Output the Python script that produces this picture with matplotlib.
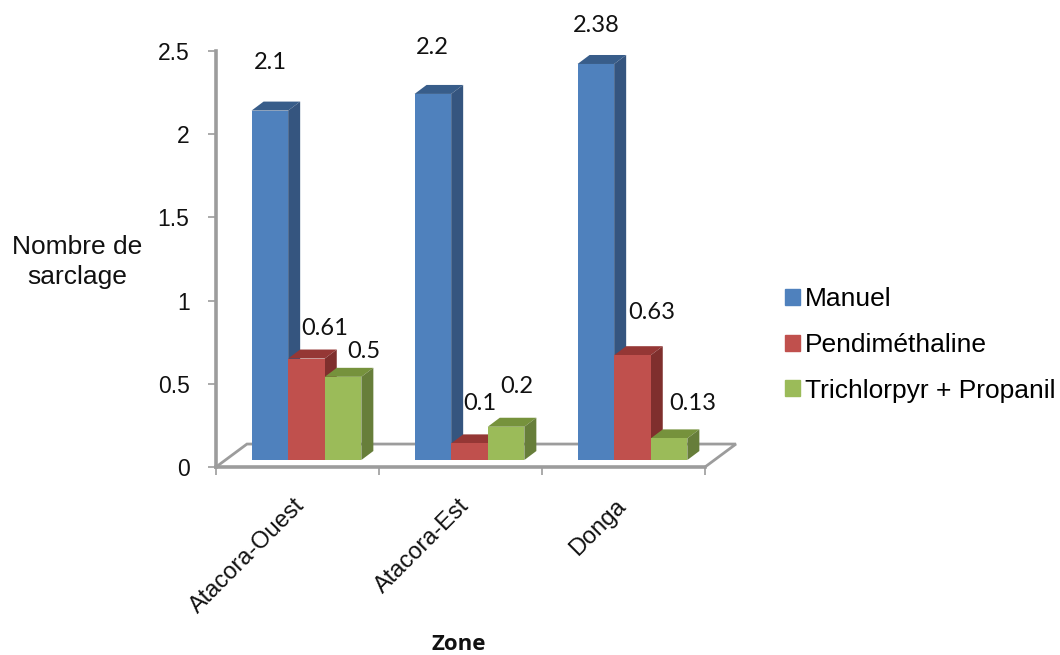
import matplotlib
matplotlib.use('Agg')
import matplotlib.pyplot as plt
from matplotlib.patches import Polygon, Patch

zones = ['Atacora-Ouest', 'Atacora-Est', 'Donga']
series = ['Manuel', 'Pendiméthaline', 'Trichlorpyr + Propanil']
manuel = [2.1, 2.2, 2.38]
pendimethaline = [0.61, 0.1, 0.63]
trichlorpyr = [0.5, 0.2, 0.13]
y_ticks = [0, 0.5, 1, 1.5, 2, 2.5]
y_tick_labels = ['0', '0.5', '1', '1.5', '2', '2.5']

# front, top, side
colors = [('#4f81bd', '#385d8a', '#35557f'),
          ('#c0504d', '#953735', '#7f2f2d'),
          ('#9bbb59', '#76923c', '#677e3a')]

# label offsets from the top of each bar, in pixels
label_offsets = [[(1, 48), (18, 30), (21, 25)],
                 [(-1, 46), (10, 40), (11, 40)],
                 [(0, 38), (19, 43), (24, 35)]]

bar_w = 0.2245
depth_x = 0.0736
depth_y = 0.054
base = 0.042
floor_x = 0.19
floor_y = 0.138
grey = '#9c9c9c'

fig = plt.figure(figsize=(10.6, 6.55), dpi=100)
ax = fig.add_axes([216 / 1060, 1 - 467 / 655, 489 / 1060, 416 / 655])
ax.set_xlim(0, 3)
ax.set_ylim(0, 2.5)
ax.patch.set_alpha(0)

# floor of the 3D box
ax.plot([0, floor_x, 3 + floor_x, 3], [0, floor_y, floor_y, 0],
        color=grey, lw=2, clip_on=False, zorder=1, solid_joinstyle='miter')

z = 2
for s, values in enumerate([manuel, pendimethaline, trichlorpyr]):
    for g, v in enumerate(values):
        x0 = g + 0.555 - 1.5 * bar_w + s * bar_w
        x1 = x0 + bar_w
        top = v + base
        ax.add_patch(Polygon([(x0, top), (x1, top), (x1 + depth_x, top + depth_y),
                              (x0 + depth_x, top + depth_y)],
                             fc=colors[s][1], ec='none', zorder=z, clip_on=False))
        ax.add_patch(Polygon([(x1, base), (x1 + depth_x, base + depth_y),
                              (x1 + depth_x, top + depth_y), (x1, top)],
                             fc=colors[s][2], ec='none', zorder=z, clip_on=False))
        ax.bar(x0, v, bar_w, bottom=base, align='edge', color=colors[s][0], zorder=z + 0.5)
        dx, dy = label_offsets[g][s]
        ax.annotate(str(v), ((x0 + x1) / 2, top), xytext=(dx * 0.72, dy * 0.72),
                    textcoords='offset points', ha='center', va='center',
                    fontsize=17, family='Lato', color='#111111', zorder=50)

for side in ['top', 'right']:
    ax.spines[side].set_visible(False)
for side in ['left', 'bottom']:
    ax.spines[side].set_color(grey)
    ax.spines[side].set_linewidth(2.6)
    ax.spines[side].set_zorder(1.5)

ax.set_yticks(y_ticks, y_tick_labels, fontsize=16.5, family='Liberation Sans', color='#111111')
ax.tick_params(axis='y', length=6, width=1.2, color=grey, pad=13)
ax.set_xticks([0, 1, 2, 3], ['', '', '', ''])
ax.tick_params(axis='x', which='major', length=6, width=1.2, color=grey)
# rotated zone names, anchored at their upper right end
ax.set_xticks([0.475, 1.488, 2.445], zones, minor=True,
              rotation=45, ha='right', rotation_mode='anchor',
              fontsize=17, family='Liberation Sans', color='#111111')
ax.tick_params(axis='x', which='minor', length=0, pad=20)

fig.text(77 / 1060, 1 - 262 / 655, 'Nombre de\nsarclage', ha='center', va='center',
         fontsize=19, family='Liberation Sans', color='#111111', linespacing=1.3)
fig.text(459 / 1060, 1 - 645 / 655, 'Zone', ha='center', va='center',
         fontsize=16, family='Open Sans', weight='bold', color='#111111')

handles = [Patch(color=colors[i][0], label=series[i]) for i in range(3)]
fig.legend(handles=handles, loc='center left', bbox_to_anchor=(785 / 1060, 1 - 345 / 655),
           frameon=False, prop={'family': 'Liberation Sans', 'size': 19},
           handlelength=0.57, handleheight=0.57, handletextpad=0.2, labelspacing=0.82,
           borderpad=0, borderaxespad=0)

fig.savefig('out.png', dpi=100)
